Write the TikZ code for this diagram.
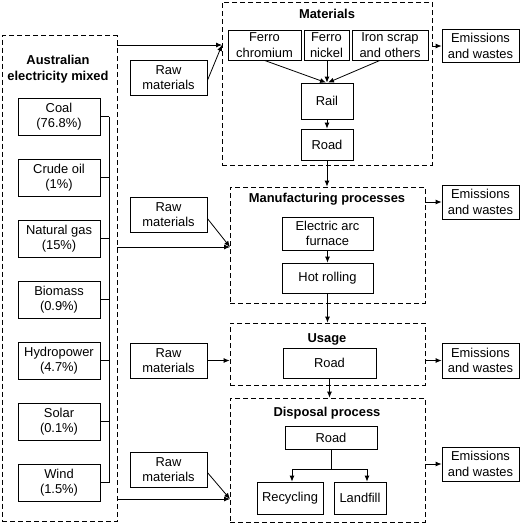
\documentclass[tikz,border=0pt]{standalone}
\usepackage{fontspec}
\setmainfont{Liberation Sans}
\usetikzlibrary{arrows.meta}
\newcommand\fs{\fontsize{12.9}{15.5}\selectfont}
\tikzset{
  box/.style={draw, line width=0.8pt, inner sep=0pt, align=center, font=\fs},
  dbox/.style={draw, dash pattern=on 5pt off 3pt, line width=0.8pt, inner sep=0pt},
  ttl/.style={font=\fs\bfseries, align=center, inner sep=0pt},
  arr/.style={-{Latex[length=6pt,width=5pt]}, line width=0.8pt},
  ln/.style={line width=0.8pt},
}
\begin{document}
\begin{tikzpicture}[x=1pt,y=-1pt]
\useasboundingbox (0,0) rectangle (520,523);
% left block
\node[dbox, minimum width=115pt, minimum height=486pt] (mix) at (59.5,278.5) {};
\node[ttl] (mixt) at (58,69) {Australian\\electricity mixed};
\node[box, minimum width=82pt, minimum height=37pt] (coal) at (59,116.5) {Coal\\(76.8\%)};
\node[box, minimum width=82pt, minimum height=37pt] (oil) at (59,177.5) {Crude oil\\(1\%)};
\node[box, minimum width=82pt, minimum height=37pt] (gas) at (59,238.5) {Natural gas\\(15\%)};
\node[box, minimum width=82pt, minimum height=37pt] (bio) at (59,299.5) {Biomass\\(0.9\%)};
\node[box, minimum width=82pt, minimum height=37pt] (hyd) at (59,360.5) {Hydropower\\(4.7\%)};
\node[box, minimum width=82pt, minimum height=37pt] (sol) at (59,421.5) {Solar\\(0.1\%)};
\node[box, minimum width=82pt, minimum height=37pt] (wind) at (59,482.5) {Wind\\(1.5\%)};
\coordinate (bt) at (109,116.5);
\coordinate (bb) at (109,482.5);
\draw[ln] (bt) -- (bb);
\foreach \n in {coal,oil,gas,bio,hyd,sol,wind} \draw[ln] (\n.east) -- (\n.east -| bt);
% raw materials
\node[box, minimum width=77pt, minimum height=35pt] (raw1) at (168.5,77.5) {Raw\\materials};
\node[box, minimum width=77pt, minimum height=35pt] (raw2) at (168.5,214.5) {Raw\\materials};
\node[box, minimum width=77pt, minimum height=35pt] (raw3) at (168.5,360.5) {Raw\\materials};
\node[box, minimum width=77pt, minimum height=35pt] (raw4) at (168.5,469.5) {Raw\\materials};
% materials
\node[dbox, minimum width=210pt, minimum height=163pt] (mat) at (327,83.5) {};
\node[ttl] (matt) at (327,14) {Materials};
\node[box, minimum width=73pt, minimum height=30pt] (fc) at (264.5,45) {Ferro\\chromium};
\node[box, minimum width=45pt, minimum height=30pt] (fn) at (326.5,45) {Ferro\\nickel};
\node[box, minimum width=76pt, minimum height=30pt] (fs) at (390,45) {Iron scrap\\and others};
\node[box, minimum width=52pt, minimum height=36pt] (rail) at (327,101) {Rail};
\node[box, minimum width=52pt, minimum height=31pt] (road1) at (327,144.5) {Road};
% manufacturing
\node[dbox, minimum width=195pt, minimum height=116pt] (man) at (327.5,245) {};
\node[ttl] (mant) at (327,199) {Manufacturing processes};
\node[box, minimum width=91pt, minimum height=33pt] (eaf) at (327.5,233.5) {Electric arc\\furnace};
\node[box, minimum width=91pt, minimum height=30pt] (hot) at (327.5,278) {Hot rolling};
% usage
\node[dbox, minimum width=195pt, minimum height=62pt] (use) at (327.5,354) {};
\node[ttl] (uset) at (327,339) {Usage};
\node[box, minimum width=93pt, minimum height=30pt] (road2) at (329.5,363) {Road};
% disposal
\node[dbox, minimum width=195pt, minimum height=124pt] (dis) at (327.5,460) {};
\node[ttl] (dist) at (327,413) {Disposal process};
\node[box, minimum width=92pt, minimum height=22.5pt] (road3) at (331,438) {Road};
\node[box, minimum width=66pt, minimum height=32pt] (rec) at (290,498) {Recycling};
\node[box, minimum width=52pt, minimum height=32pt] (lan) at (360,498) {Landfill};
% emissions
\node[box, minimum width=77pt, minimum height=33pt] (em1) at (480.5,46) {Emissions\\and wastes};
\node[box, minimum width=77pt, minimum height=34pt] (em2) at (480.5,202) {Emissions\\and wastes};
\node[box, minimum width=77pt, minimum height=35pt] (em3) at (480.5,360.5) {Emissions\\and wastes};
\node[box, minimum width=77pt, minimum height=34pt] (em4) at (480.5,464) {Emissions\\and wastes};
% arrows from mix
\coordinate (a1) at (222,45);
\coordinate (a2) at (230,247);
\coordinate (a4) at (230,499);
\draw[arr] (a1 -| mix.east) -- (a1);
\draw[arr] (a2 -| mix.east) -- (a2);
\draw[arr] (a4 -| mix.east) -- (a4);
\draw[arr] ([yshift=-3pt]raw1.east) -- (a1);
\draw[arr] ([yshift=-4pt]raw2.east) -- (a2);
\draw[arr] (raw3.east) -- (raw3.east -| use.west);
\draw[arr] ([yshift=-3pt]raw4.east) -- (a4);
% materials internal
\draw[arr] (fc.south) -- ([xshift=-1pt]rail.north);
\draw[arr] (fn.south -| rail.north) -- (rail.north);
\draw[arr] ([xshift=-10pt]fs.south) -- ([xshift=1pt]rail.north);
\draw[arr] (rail) -- (road1);
\draw[arr] (road1.south) -- (road1.south |- man.north);
\draw[arr] (eaf) -- (hot);
\draw[arr] (hot.south) -- (hot.south |- use.north);
\draw[arr] (road2.south) -- (road2.south |- dis.north);
\coordinate (sp) at (331,469);
\draw[ln] (road3.south) -- (sp);
\draw[arr] (sp) -| ([xshift=2pt]rec.north);
\draw[arr] (sp) -| ([xshift=7pt]lan.north);
% emissions arrows
\draw[arr] (em1.west -| mat.east) -- (em1.west);
\draw[arr] (em2.west -| man.east) -- (em2.west);
\draw[arr] (em3.west -| use.east) -- (em3.west);
\draw[arr] (em4.west -| dis.east) -- (em4.west);
\end{tikzpicture}
\end{document}
